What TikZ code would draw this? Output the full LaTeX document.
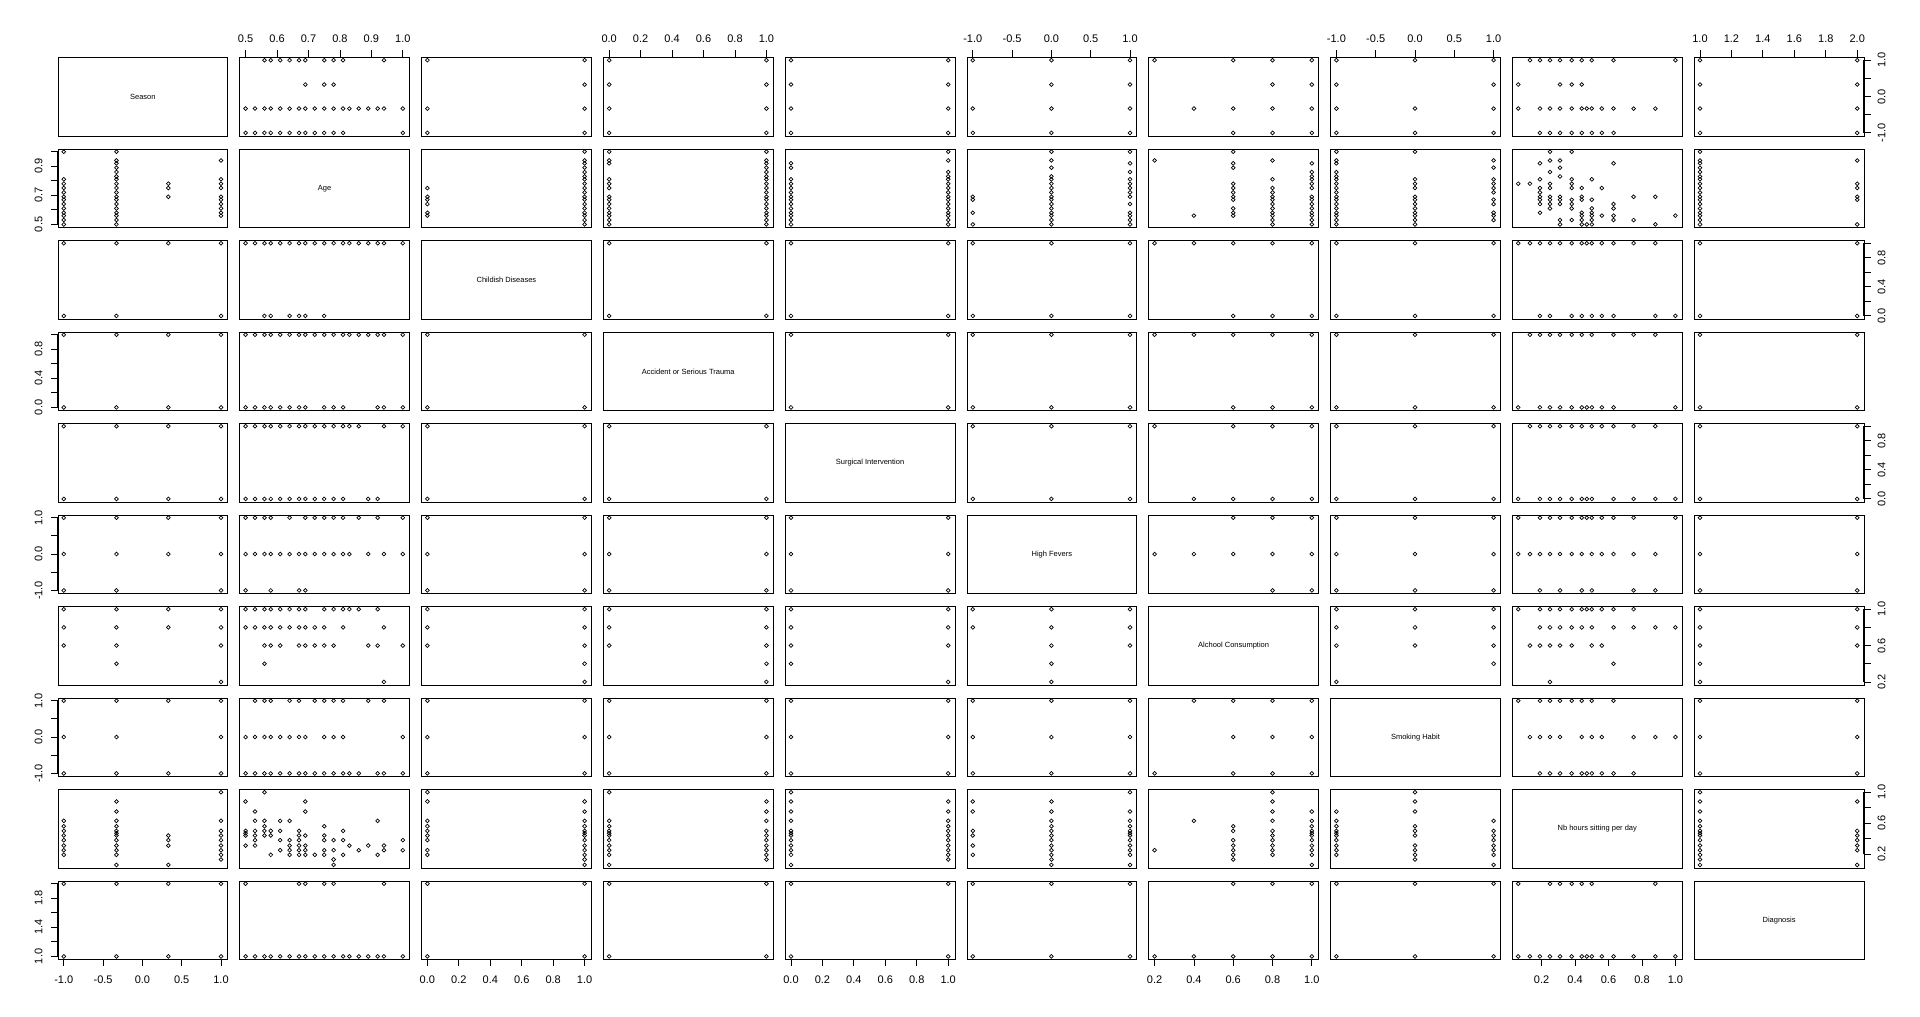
\documentclass[tikz,border=0pt]{standalone}
\usepackage{fontspec}
\setmainfont{Liberation Sans}
\def\vmin{{-1,0.5,0,0,0,-1,0.2,-1,0.06,1}}
\def\vrng{{2,0.5,1,1,1,2,0.8,2,0.94,1}}
\newcommand\xpos[2]{\pgfmathsetmacro\mn{\vmin[#1-1]}\pgfmathsetmacro\rg{\vrng[#1-1]}\pgfmathsetmacro\px{57.5+181.8*(#1-1)+169.8*(((#2)-(\mn))/(\rg)+0.04)/1.08}}
\newcommand\ypos[2]{\pgfmathsetmacro\mn{\vmin[#1-1]}\pgfmathsetmacro\rg{\vrng[#1-1]}\pgfmathsetmacro\py{57.3+91.5*(#1-1)+78.5-78.5*(((#2)-(\mn))/(\rg)+0.04)/1.08}}
% #1 row var, #2 col var, #3 x value, #4 y value
\newcommand\plotpt[4]{\xpos{#2}{#3}\ypos{#1}{#4}\draw[pt] (\px,\py) circle[radius=1.9];}
% pair i<j with values vi, vj -> both panels
\newcommand\PP[4]{\plotpt{#1}{#2}{#4}{#3}\plotpt{#2}{#1}{#3}{#4}}
\newcommand\GA[4]{\foreach \qq in {#4}{\PP{#1}{#2}{#3}{\qq}}}
\newcommand\GB[4]{\foreach \qq in {#4}{\PP{#1}{#2}{\qq}{#3}}}
\newcommand\ALL[4]{\foreach \qa in {#3}{\foreach \qb in {#4}{\PP{#1}{#2}{\qa}{\qb}}}}
% horizontal axis: col, y, dy, label y, first, last, v/label list
\newcommand\haxis[7]{\xpos{#1}{#5}\let\xa\px\xpos{#1}{#6}\let\xb\px
  \draw[ax] (\xa,#2) -- (\xb,#2);
  \foreach \v/\s in {#7}{\xpos{#1}{\v}\draw[ax] (\px,#2) -- ++(0,#3); \node[tl] at (\px,#4) {\s};}}
% vertical axis: row, x, dx, label x, first, last, ticks, v/label list
\newcommand\vaxis[8]{\ypos{#1}{#5}\let\ya\py\ypos{#1}{#6}\let\yb\py
  \draw[ax] (#2,\ya) -- (#2,\yb);
  \foreach \v in {#7}{\ypos{#1}{\v}\draw[ax] (#2,\py) -- ++(#3,0);}
  \foreach \v/\s in {#8}{\ypos{#1}{\v}\node[tl,rotate=90] at (#4,\py) {\s};}}
\begin{document}
\begin{tikzpicture}[x=1pt,y=-1pt,
  panel/.style={draw,line width=0.9pt,minimum width=169.8pt,minimum height=78.5pt,inner sep=0pt,anchor=north west},
  diag/.style={font=\fontsize{7.5}{9}\selectfont,inner sep=0pt},
  pt/.style={line width=0.7pt},
  ax/.style={line width=0.8pt},
  tl/.style={font=\fontsize{11}{13}\selectfont,inner sep=0pt}]
\useasboundingbox (0,0) rectangle (1920,1017);
\fill[white] (0,0) rectangle (1920,1017);
\foreach \r in {1,...,10}{\foreach \c in {1,...,10}{
  \pgfmathsetmacro\L{57.5+181.8*(\c-1)}\pgfmathsetmacro\T{57.3+91.5*(\r-1)}
  \node[panel] (p-\r-\c) at (\L,\T) {};}}
\node[diag] (d1) at (p-1-1.center) {Season};
\node[diag] (d2) at (p-2-2.center) {Age};
\node[diag] (d3) at (p-3-3.center) {Childish Diseases};
\node[diag] (d4) at (p-4-4.center) {Accident or Serious Trauma};
\node[diag] (d5) at (p-5-5.center) {Surgical Intervention};
\node[diag] (d6) at (p-6-6.center) {High Fevers};
\node[diag] (d7) at (p-7-7.center) {Alchool Consumption};
\node[diag] (d8) at (p-8-8.center) {Smoking Habit};
\node[diag] (d9) at (p-9-9.center) {Nb hours sitting per day};
\node[diag] (d10) at (p-10-10.center) {Diagnosis};
% axes
\haxis{2}{57.3}{-7}{38.5}{0.5}{1}{0.5/0.5,0.6/0.6,0.7/0.7,0.8/0.8,0.9/0.9,1/1.0}
\haxis{4}{57.3}{-7}{38.5}{0}{1}{0/0.0,0.2/0.2,0.4/0.4,0.6/0.6,0.8/0.8,1/1.0}
\haxis{6}{57.3}{-7}{38.5}{-1}{1}{-1/-1.0,-0.5/-0.5,0/0.0,0.5/0.5,1/1.0}
\haxis{8}{57.3}{-7}{38.5}{-1}{1}{-1/-1.0,-0.5/-0.5,0/0.0,0.5/0.5,1/1.0}
\haxis{10}{57.3}{-7}{38.5}{1}{2}{1/1.0,1.2/1.2,1.4/1.4,1.6/1.6,1.8/1.8,2/2.0}
\haxis{1}{959.3}{7}{979.5}{-1}{1}{-1/-1.0,-0.5/-0.5,0/0.0,0.5/0.5,1/1.0}
\haxis{3}{959.3}{7}{979.5}{0}{1}{0/0.0,0.2/0.2,0.4/0.4,0.6/0.6,0.8/0.8,1/1.0}
\haxis{5}{959.3}{7}{979.5}{0}{1}{0/0.0,0.2/0.2,0.4/0.4,0.6/0.6,0.8/0.8,1/1.0}
\haxis{7}{959.3}{7}{979.5}{0.2}{1}{0.2/0.2,0.4/0.4,0.6/0.6,0.8/0.8,1/1.0}
\haxis{9}{959.3}{7}{979.5}{0.2}{1}{0.2/0.2,0.4/0.4,0.6/0.6,0.8/0.8,1/1.0}
\vaxis{2}{57.5}{-7}{38.5}{0.5}{1}{0.5,0.6,0.7,0.8,0.9,1}{0.5/0.5,0.7/0.7,0.9/0.9}
\vaxis{4}{57.5}{-7}{38.5}{0}{1}{0,0.2,0.4,0.6,0.8,1}{0/0.0,0.4/0.4,0.8/0.8}
\vaxis{6}{57.5}{-7}{38.5}{-1}{1}{-1,-0.5,0,0.5,1}{-1/-1.0,0/0.0,1/1.0}
\vaxis{8}{57.5}{-7}{38.5}{-1}{1}{-1,-0.5,0,0.5,1}{-1/-1.0,0/0.0,1/1.0}
\vaxis{10}{57.5}{-7}{38.5}{1}{2}{1,1.2,1.4,1.6,1.8,2}{1/1.0,1.4/1.4,1.8/1.8}
\vaxis{1}{1863.5}{7}{1881.5}{-1}{1}{-1,-0.5,0,0.5,1}{-1/-1.0,0/0.0,1/1.0}
\vaxis{3}{1863.5}{7}{1881.5}{0}{1}{0,0.2,0.4,0.6,0.8,1}{0/0.0,0.4/0.4,0.8/0.8}
\vaxis{5}{1863.5}{7}{1881.5}{0}{1}{0,0.2,0.4,0.6,0.8,1}{0/0.0,0.4/0.4,0.8/0.8}
\vaxis{7}{1863.5}{7}{1881.5}{0.2}{1}{0.2,0.4,0.6,0.8,1}{0.2/0.2,0.6/0.6,1/1.0}
\vaxis{9}{1863.5}{7}{1881.5}{0.2}{1}{0.2,0.4,0.6,0.8,1}{0.2/0.2,0.6/0.6,1/1.0}
% ---- data ----
% (1,2) Season-Age
\GA{1}{2}{1}{0.56,0.58,0.61,0.64,0.67,0.69,0.75,0.78,0.81,0.94}
\GA{1}{2}{0.33}{0.69,0.75,0.78}
\GA{1}{2}{-0.33}{0.5,0.53,0.56,0.58,0.61,0.64,0.67,0.69,0.72,0.75,0.78,0.81,0.83,0.86,0.89,0.92,0.94,1}
\GA{1}{2}{-1}{0.5,0.53,0.56,0.58,0.61,0.64,0.67,0.69,0.72,0.75,0.78,0.81,1}
% (1,3)
\GA{1}{3}{1}{0,1}\GA{1}{3}{0.33}{1}\GA{1}{3}{-0.33}{0,1}\GA{1}{3}{-1}{0,1}
\ALL{1}{4}{-1,-0.33,0.33,1}{0,1}
\ALL{1}{5}{-1,-0.33,0.33,1}{0,1}
\GA{1}{6}{1}{-1,0,1}\GA{1}{6}{0.33}{0,1}\GA{1}{6}{-0.33}{-1,0,1}\GA{1}{6}{-1}{-1,0,1}
\GA{1}{7}{1}{0.2,0.6,0.8,1}\GA{1}{7}{0.33}{0.8,1}\GA{1}{7}{-0.33}{0.4,0.6,0.8,1}\GA{1}{7}{-1}{0.6,0.8,1}
\GA{1}{8}{1}{-1,0,1}\GA{1}{8}{0.33}{-1,1}\GA{1}{8}{-0.33}{-1,0,1}\GA{1}{8}{-1}{-1,0,1}
\GA{1}{9}{1}{0.13,0.19,0.25,0.31,0.38,0.44,0.5,0.63,1}
\GA{1}{9}{0.33}{0.06,0.31,0.38,0.44}
\GA{1}{9}{-0.33}{0.06,0.19,0.25,0.31,0.38,0.44,0.47,0.5,0.56,0.63,0.75,0.88}
\GA{1}{9}{-1}{0.19,0.25,0.31,0.38,0.44,0.5,0.56,0.63}
\ALL{1}{10}{-1,-0.33,0.33,1}{1,2}
% Age pairs
\GB{2}{3}{0}{0.56,0.58,0.64,0.67,0.69,0.75}
\GB{2}{3}{1}{0.5,0.53,0.56,0.58,0.61,0.64,0.67,0.69,0.72,0.75,0.78,0.81,0.83,0.86,0.89,0.92,0.94,1}
\GB{2}{4}{1}{0.5,0.53,0.56,0.58,0.61,0.64,0.67,0.69,0.72,0.75,0.78,0.81,0.83,0.86,0.89,0.92,0.94,1}
\GB{2}{4}{0}{0.5,0.53,0.56,0.58,0.61,0.64,0.67,0.69,0.75,0.78,0.81,0.92,0.94,1}
\GB{2}{5}{1}{0.5,0.53,0.56,0.58,0.61,0.64,0.67,0.69,0.72,0.75,0.78,0.81,0.83,0.86,0.94,1}
\GB{2}{5}{0}{0.5,0.53,0.56,0.58,0.61,0.64,0.67,0.69,0.72,0.75,0.78,0.81,0.89,0.92}
\GB{2}{6}{1}{0.5,0.53,0.56,0.58,0.64,0.69,0.72,0.75,0.78,0.81,0.86,0.92,1}
\GB{2}{6}{0}{0.5,0.53,0.56,0.58,0.61,0.64,0.67,0.69,0.72,0.75,0.78,0.81,0.83,0.89,0.94,1}
\GB{2}{6}{-1}{0.5,0.58,0.67,0.69}
\GB{2}{7}{1}{0.5,0.53,0.56,0.58,0.61,0.64,0.67,0.69,0.75,0.78,0.81,0.83,0.86,0.92}
\GB{2}{7}{0.8}{0.5,0.53,0.56,0.58,0.61,0.64,0.67,0.69,0.72,0.75,0.81,0.94}
\GB{2}{7}{0.6}{0.56,0.58,0.61,0.67,0.69,0.72,0.75,0.78,0.89,0.92,1}
\GB{2}{7}{0.4}{0.56}\GB{2}{7}{0.2}{0.94}
\GB{2}{8}{1}{0.53,0.56,0.58,0.64,0.67,0.72,0.75,0.78,0.81,0.89,0.94}
\GB{2}{8}{0}{0.5,0.53,0.56,0.58,0.61,0.64,0.67,0.69,0.75,0.78,0.81,1}
\GB{2}{8}{-1}{0.5,0.53,0.56,0.58,0.61,0.64,0.67,0.69,0.72,0.75,0.78,0.81,0.83,0.86,0.92,0.94,1}
\GA{2}{9}{0.5}{0.88,0.5,0.47,0.44,0.31}
\GA{2}{9}{0.53}{0.75,0.63,0.5,0.44,0.38,0.31}
\GA{2}{9}{0.56}{1,0.63,0.56,0.5,0.44}
\GA{2}{9}{0.58}{0.5,0.44,0.19}
\GA{2}{9}{0.61}{0.63,0.5,0.38,0.25}
\GA{2}{9}{0.64}{0.63,0.38,0.31,0.25,0.19}
\GA{2}{9}{0.67}{0.5,0.44,0.38,0.31,0.25,0.19}
\GA{2}{9}{0.69}{0.88,0.75,0.44,0.31,0.25,0.19}
\GA{2}{9}{0.72}{0.19}
\GA{2}{9}{0.75}{0.56,0.44,0.38,0.25,0.19}
\GA{2}{9}{0.78}{0.38,0.25,0.13,0.06}
\GA{2}{9}{0.81}{0.5,0.38,0.19}
\GA{2}{9}{0.83}{0.31}
\GA{2}{9}{0.86}{0.25}
\GA{2}{9}{0.89}{0.31}
\GA{2}{9}{0.92}{0.63,0.19}
\GA{2}{9}{0.94}{0.31,0.25}
\GA{2}{9}{1}{0.38,0.25}
\GB{2}{10}{2}{0.5,0.67,0.69,0.75,0.78,0.94}
\GB{2}{10}{1}{0.5,0.53,0.56,0.58,0.61,0.64,0.67,0.69,0.72,0.75,0.78,0.81,0.83,0.86,0.89,0.92,0.94,1}
% binary pairs
\ALL{3}{4}{0,1}{0,1}
\ALL{3}{5}{0,1}{0,1}
\ALL{3}{6}{0,1}{-1,0,1}
\GA{3}{7}{1}{0.2,0.4,0.6,0.8,1}\GA{3}{7}{0}{0.6,0.8,1}
\ALL{3}{8}{0,1}{-1,0,1}
\GA{3}{9}{1}{0.06,0.13,0.19,0.25,0.31,0.38,0.44,0.47,0.5,0.56,0.63,0.75,0.88}
\GA{3}{9}{0}{0.19,0.25,0.38,0.44,0.5,0.56,0.63,0.88,1}
\ALL{3}{10}{0,1}{1,2}
\ALL{4}{5}{0,1}{0,1}
\ALL{4}{6}{0,1}{-1,0,1}
\GA{4}{7}{1}{0.2,0.4,0.6,0.8,1}\GA{4}{7}{0}{0.6,0.8,1}
\ALL{4}{8}{0,1}{-1,0,1}
\GA{4}{9}{1}{0.13,0.19,0.25,0.31,0.38,0.44,0.5,0.63,0.75,0.88}
\GA{4}{9}{0}{0.06,0.19,0.25,0.31,0.38,0.44,0.47,0.5,0.56,0.63,1}
\ALL{4}{10}{0,1}{1,2}
\ALL{5}{6}{0,1}{-1,0,1}
\GA{5}{7}{1}{0.2,0.6,0.8,1}\GA{5}{7}{0}{0.4,0.6,0.8,1}
\ALL{5}{8}{0,1}{-1,0,1}
\GA{5}{9}{1}{0.13,0.19,0.25,0.31,0.38,0.44,0.5,0.56,0.63,0.75,0.88}
\GA{5}{9}{0}{0.06,0.19,0.25,0.31,0.38,0.44,0.47,0.5,0.63,0.75,0.88,1}
\ALL{5}{10}{0,1}{1,2}
\GA{6}{7}{1}{0.6,0.8,1}\GA{6}{7}{0}{0.2,0.4,0.6,0.8,1}\GA{6}{7}{-1}{0.8,1}
\ALL{6}{8}{-1,0,1}{-1,0,1}
\GA{6}{9}{1}{0.06,0.19,0.25,0.31,0.38,0.44,0.47,0.5,0.56,0.63,0.75,1}
\GA{6}{9}{0}{0.06,0.13,0.19,0.25,0.31,0.38,0.44,0.5,0.56,0.63,0.75,0.88}
\GA{6}{9}{-1}{0.19,0.31,0.44,0.5,0.75,0.88}
\ALL{6}{10}{-1,0,1}{1,2}
\GA{7}{8}{1}{-1,0,1}\GA{7}{8}{0.8}{-1,0,1}\GA{7}{8}{0.6}{-1,0,1}\GA{7}{8}{0.4}{1}\GA{7}{8}{0.2}{-1}
\GA{7}{9}{1}{0.06,0.19,0.25,0.31,0.38,0.44,0.47,0.5,0.56,0.63,0.75}
\GA{7}{9}{0.8}{0.19,0.25,0.31,0.38,0.44,0.5,0.63,0.75,0.88,1}
\GA{7}{9}{0.6}{0.13,0.19,0.25,0.31,0.38,0.5,0.56}
\GA{7}{9}{0.4}{0.63}\GA{7}{9}{0.2}{0.25}
\GA{7}{10}{1}{1,2}\GA{7}{10}{0.8}{1,2}\GA{7}{10}{0.6}{1,2}\GA{7}{10}{0.4}{1}\GA{7}{10}{0.2}{1}
\GA{8}{9}{1}{0.06,0.19,0.25,0.31,0.38,0.44,0.5,0.63}
\GA{8}{9}{0}{0.13,0.19,0.25,0.31,0.44,0.5,0.56,0.75,0.88,1}
\GA{8}{9}{-1}{0.19,0.25,0.31,0.38,0.44,0.47,0.5,0.56,0.63,0.75}
\ALL{8}{10}{-1,0,1}{1,2}
\GB{9}{10}{1}{0.06,0.13,0.19,0.25,0.31,0.38,0.44,0.47,0.5,0.56,0.63,0.75,0.88,1}
\GB{9}{10}{2}{0.06,0.25,0.31,0.38,0.44,0.5,0.88}
\end{tikzpicture}
\end{document}
